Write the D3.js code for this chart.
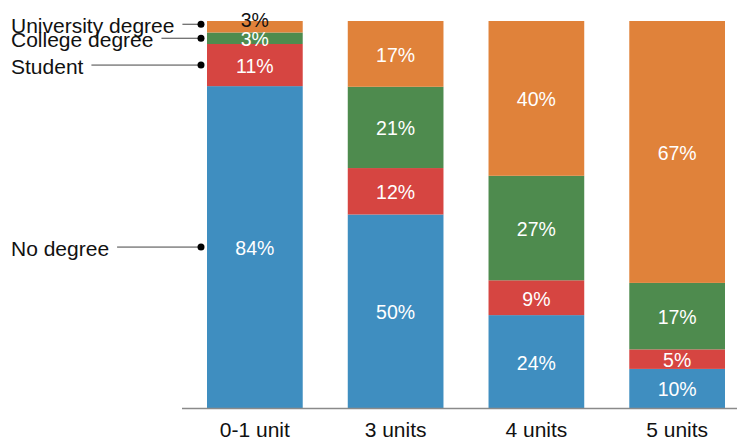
<!DOCTYPE html>
<html>
<head>
<meta charset="utf-8">
<script src="https://cdn.jsdelivr.net/npm/d3@7"></script>
<style>
  body { margin: 0; background: #fff; }
  svg text { font-family: "Liberation Sans", Arial, sans-serif; }
</style>
</head>
<body>
<svg id="chart" width="737" height="440"></svg>
<script>
var WIDTH = 737;
var HEIGHT = 440;

// data
var units = ["0-1 unit", "3 units", "4 units", "5 units"];
var groups = ["No degree", "Student", "College degree", "University degree"];
var noDegree = [84, 50, 24, 10];
var student = [11, 12, 9, 5];
var college = [3, 21, 27, 17];
var university = [3, 17, 40, 67];

var COLORS = ["#3f8ec0", "#d64541", "#4e8b4e", "#e0823a"];

var rows = units.map(function(u, i) {
  return {
    unit: u,
    "No degree": noDegree[i],
    "Student": student[i],
    "College degree": college[i],
    "University degree": university[i]
  };
});

var svg = d3.select("#chart");

var x = d3.scaleBand()
  .domain(units)
  .range([207, 725])
  .paddingInner(0.32)
  .paddingOuter(0);

var y = d3.scaleLinear().domain([0, 1]).range([408, 21]);

var color = d3.scaleOrdinal().domain(groups).range(COLORS);

var stack = d3.stack().keys(groups).offset(d3.stackOffsetExpand);
var series = stack(rows);

var layer = svg.selectAll("g.layer")
  .data(series)
  .enter()
  .append("g")
    .attr("class", "layer")
    .attr("fill", function(d) { return color(d.key); });

layer.selectAll("rect")
  .data(function(d) { return d; })
  .enter()
  .append("rect")
    .attr("x", function(d) { return x(d.data.unit); })
    .attr("y", function(d) { return y(d[1]); })
    .attr("width", x.bandwidth())
    .attr("height", function(d) { return y(d[0]) - y(d[1]); });

// percent labels
series.forEach(function(s, si) {
  var isTop = si === series.length - 1;
  svg.append("g").selectAll("text")
    .data(s)
    .enter()
    .append("text")
      .attr("x", function(d) { return x(d.data.unit) + x.bandwidth() / 2; })
      .attr("y", function(d) {
        var h = y(d[0]) - y(d[1]);
        if (isTop && h < 14) return y(d[1]) - 1;
        return (y(d[0]) + y(d[1])) / 2 + 1;
      })
      .attr("text-anchor", "middle")
      .attr("dominant-baseline", "central")
      .attr("font-size", "19.5px")
      .attr("fill", function(d) {
        var h = y(d[0]) - y(d[1]);
        return (isTop && h < 14) ? "#111" : "#fff";
      })
      .text(function(d) { return d.data[s.key] + "%"; });
});

// baseline axis
svg.append("line")
  .attr("x1", 182).attr("x2", WIDTH)
  .attr("y1", 408.5).attr("y2", 408.5)
  .attr("stroke", "#8a8a8a")
  .attr("stroke-width", 1.5);

svg.append("g").selectAll("text")
  .data(units)
  .enter()
  .append("text")
    .attr("x", function(d) { return x(d) + x.bandwidth() / 2; })
    .attr("y", 437)
    .attr("text-anchor", "middle")
    .attr("font-size", "21px")
    .attr("fill", "#111")
    .text(function(d) { return d; });

// left-hand labels pointing at first bar
var first = series.map(function(s) {
  return { key: s.key, mid: (y(s[0][0]) + y(s[0][1])) / 2 };
});

// keep labels at least 14px apart, pushing upward
for (var i = 1; i < first.length; i++) {
  if (first[i - 1].mid - first[i].mid < 14) {
    first[i].mid = first[i - 1].mid - 14;
  }
}

var DOT_X = 201;

var lab = svg.append("g").selectAll("g")
  .data(first)
  .enter()
  .append("g");

lab.append("text")
  .attr("x", 11)
  .attr("y", function(d) { return d.mid + 1; })
  .attr("dominant-baseline", "central")
  .attr("font-size", "21px")
  .attr("fill", "#111")
  .text(function(d) { return d.key; });

lab.each(function(d) {
  var g = d3.select(this);
  var w = g.select("text").node().getComputedTextLength();
  g.append("line")
    .attr("x1", 11 + w + 8).attr("x2", DOT_X)
    .attr("y1", d.mid).attr("y2", d.mid)
    .attr("stroke", "#444")
    .attr("stroke-width", 1);
  g.append("circle")
    .attr("cx", DOT_X).attr("cy", d.mid)
    .attr("r", 3.5)
    .attr("fill", "#000");
});
</script>
</body>
</html>
